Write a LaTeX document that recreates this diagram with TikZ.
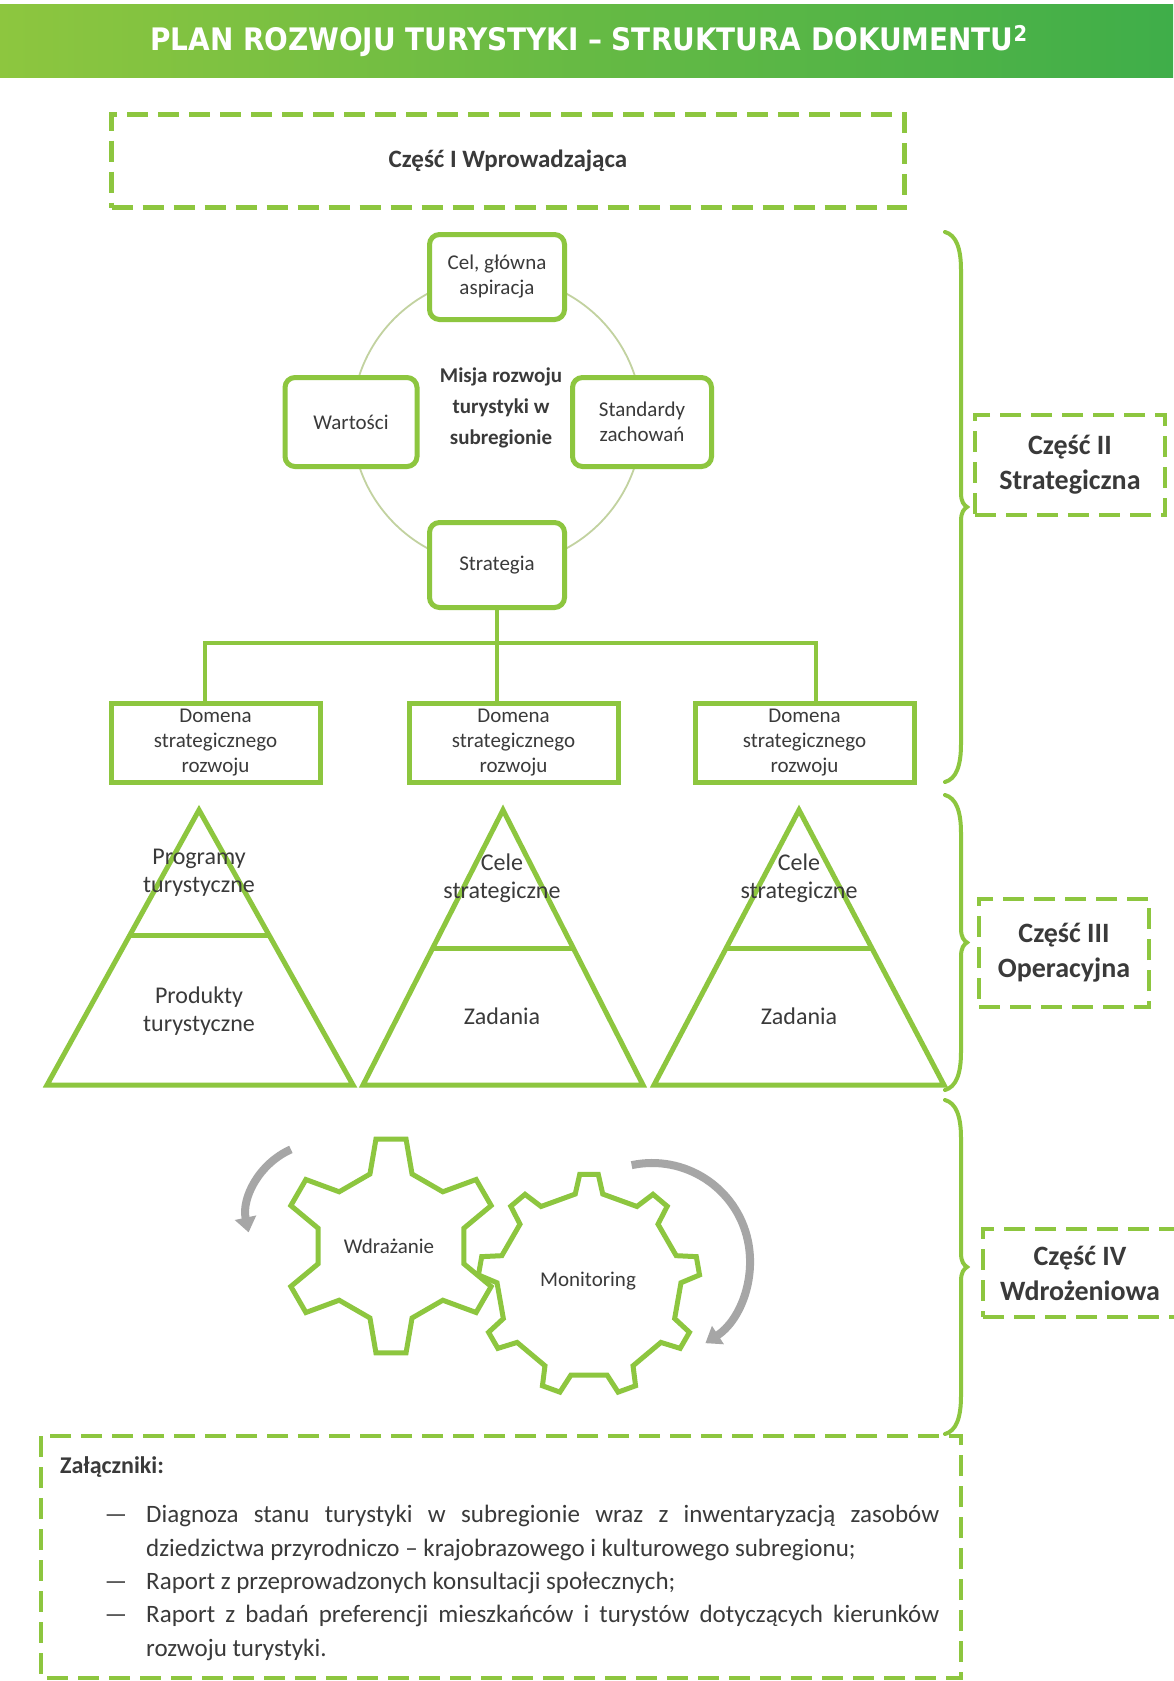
\documentclass[tikz,border=0pt]{standalone}
\usepackage{fontspec}
\setmainfont{Carlito}
\newfontfamily\titlefont{DejaVu Sans Condensed}
\usetikzlibrary{calc}
\usetikzlibrary{arrows.meta}
\definecolor{leaf}{HTML}{8DC63F}
\definecolor{moss}{HTML}{3FAE49}
\definecolor{ink}{HTML}{3A3A3A}
\definecolor{ringline}{HTML}{C2D2A0}
\definecolor{turngray}{HTML}{A6A6A6}
\newcommand*{\pagew}{1173}
\newcommand*{\pageh}{1681}
\newcommand*{\brx  }{961}
\newcommand*{\sidebrace}[2]{%
    \pgfmathsetmacro{\bmid}{(#1+#2)/2}
    \draw [bracestroke] (945,#1) .. controls (956,#1+3) and (\brx,#1+16) .. (\brx,#1+38)
        -- (\brx,\bmid-14) .. controls (\brx,\bmid-5) and (\brx+3,\bmid-2) .. (\brx+6,\bmid)
        .. controls (\brx+3,\bmid+2) and (\brx,\bmid+5) .. (\brx,\bmid+14)
        -- (\brx,#2-38) .. controls (\brx,#2-16) and (956,#2-3) .. (945,#2);}
\newcommand*{\gearpath}[5]{%
    (270-#5:#3) \foreach \k in {1,...,#1} {
        -- ({270+360/#1*(\k-1)-#5}:#3) -- ({270+360/#1*(\k-1)-#4}:#2)
        -- ({270+360/#1*(\k-1)+#4}:#2) -- ({270+360/#1*(\k-1)+#5}:#3)} -- cycle}
\tikzset{
    partbox/.style     = {draw=leaf, line width=4.5pt, dash pattern=on 21pt off 10pt, text=ink, align=center, inner sep=0pt},
    roundbox/.style    = {draw=leaf, line width=5pt, rounded corners=10pt, fill=white, text=ink, align=center, inner sep=0pt, font=\fontsize{21}{25}\selectfont},
    domainbox/.style   = {draw=leaf, line width=5pt, fill=white, text=ink, align=center, inner sep=0pt, minimum height=79pt, font=\fontsize{21}{25}\selectfont},
    link/.style        = {draw=leaf, line width=4.5pt},
    pyramid/.style     = {draw=leaf, line width=5pt},
    pyrtext/.style     = {text=ink, align=center, inner sep=0pt, font=\fontsize{24}{28}\selectfont},
    gearline/.style    = {draw=leaf, line width=5pt},
    geartext/.style    = {text=ink, inner sep=0pt, font=\fontsize{21}{25}\selectfont},
    turn/.style        = {draw=turngray, line width=8pt, -{Triangle[width=21pt,length=15pt]}},
    bracestroke/.style = {draw=leaf, line width=4pt, line cap=round},
    listtext/.style    = {text=ink, inner sep=0pt, font=\fontsize{25}{34}\selectfont}
}

\begin{document}
\begin{tikzpicture}[x=1pt, y=-1pt]
    \useasboundingbox (0,0) rectangle (\pagew,\pageh);
    \fill [white] (0,0) rectangle (\pagew,\pageh);
    \shade [left color=leaf, right color=moss] (0,4) rectangle (\pagew,77);
    \node [text=white, font=\titlefont\bfseries\fontsize{31}{36}\selectfont] (title) at (589,41)
        {PLAN ROZWOJU TURYSTYKI – STRUKTURA DOKUMENTU\textsuperscript{2}};

    \node [partbox, minimum width=793pt, minimum height=93pt, font=\bfseries\fontsize{25}{30}\selectfont] (part1) at (508,161) {\raisebox{-3pt}{Część I Wprowadzająca}};

    % mission ring
    \draw [draw=ringline, line width=1.8pt] (497,421) circle [radius=145];
    \node [roundbox, minimum width=135pt, minimum height=85pt] (goal)  at (497,277) {Cel, główna\\aspiracja};
    \node [roundbox, minimum width=132pt, minimum height=89pt] (value) at (351,422) {Wartości};
    \node [roundbox, minimum width=139pt, minimum height=89pt] (norms) at (642,422) {Standardy\\zachowań};
    \node [roundbox, minimum width=135pt, minimum height=85pt] (strat) at (497,565) {Strategia};
    \node [text=ink, align=center, inner sep=0pt, font=\bfseries\fontsize{21}{31}\selectfont] (mission) at (501,408) {Misja rozwoju\\turystyki w\\subregionie};

    \node [domainbox, minimum width=209pt] (dom1) at (215.5,742.5) {Domena\\strategicznego\\rozwoju};
    \node [domainbox, minimum width=209pt] (dom2) at (513.5,742.5) {Domena\\strategicznego\\rozwoju};
    \node [domainbox, minimum width=219pt] (dom3) at (804.5,742.5) {Domena\\strategicznego\\rozwoju};
    \coordinate (fork) at (497,643);
    \draw [link] (strat.south) -- (strat.south |- dom2.north);
    \draw [link] ([xshift=-10.5pt]dom1.north) |- (fork) -| ([xshift=11.5pt]dom3.north);

    \foreach \ax/\lx/\rx/\cut/\nm in {199/47/353/0.455/1, 503/363/643/0.502/2, 799/654/944/0.502/3} {
        \coordinate (t\nm a) at (\ax,810);
        \coordinate (t\nm l) at (\lx,1085);
        \coordinate (t\nm r) at (\rx,1085);
        \draw [pyramid] (t\nm a) -- (t\nm l) -- (t\nm r) -- cycle;
        \draw [pyramid] ($(t\nm a)!\cut!(t\nm l)$) -- ($(t\nm a)!\cut!(t\nm r)$);
    }
    \node [pyrtext] (prog) at (199,873)  {Programy\\turystyczne};
    \node [pyrtext] (prod) at (199,1011) {Produkty\\turystyczne};
    \node [pyrtext] (aim2) at (502,878)  {Cele\\strategiczne};
    \node [pyrtext] (task2) at (502,1016) {Zadania};
    \node [pyrtext] (aim3) at (799,878)  {Cele\\strategiczne};
    \node [pyrtext] (task3) at (799,1016) {Zadania};

    % gears and turning arrows
    \draw [gearline, shift={(391,1246)}] \gearpath{6}{108}{75}{8}{16.3};
    \draw [gearline, shift={(589,1285)}] \gearpath{9}{111}{92}{4.8}{8.6};
    \node [geartext] (impl)    at (389,1246) {Wdrażanie};
    \node [geartext] (monitor) at (588,1281) {Monitoring};
    \draw [turn] (321,1217) ++(-114:74) arc [start angle=-114, end angle=-192, radius=74];
    \draw [turn] (652,1261) ++(-102:98) arc [start angle=-102, end angle=57, radius=98];

    \sidebrace{232}{782}
    \sidebrace{795}{1090}
    \sidebrace{1100}{1434}
    \node [partbox, minimum width=190pt, minimum height=100pt, font=\bfseries\fontsize{28}{35}\selectfont] (part2) at (1070,465)  {Część II\\Strategiczna};
    \node [partbox, minimum width=170pt, minimum height=108pt, font=\bfseries\fontsize{28}{35}\selectfont] (part3) at (1064,953)  {Część III\\Operacyjna};
    \node [partbox, minimum width=194pt, minimum height=88pt,  font=\bfseries\fontsize{28}{35}\selectfont] (part4) at (1080,1273) {Część IV\\Wdrożeniowa};

    % annexes
    \draw [partbox] (41,1436) rectangle (961,1678);
    \node [text=ink, inner sep=0pt, anchor=base west, font=\bfseries\fontsize{24}{30}\selectfont] (annex) at (60,1473) {Załączniki:};
    \node [listtext, anchor=base] (dash1) at (116,1522) {—};
    \node [listtext, anchor=base] (dash2) at (116,1589) {—};
    \node [listtext, anchor=base] (dash3) at (116,1622) {—};
    \node [listtext, anchor=base west, text width=793pt, align=justify] (item1) at (146,1522)
        {Diagnoza stanu turystyki w subregionie wraz z inwentaryzacją zasobów\linebreak dziedzictwa przyrodniczo – krajobrazowego i kulturowego subregionu;};
    \node [listtext, anchor=base west, text width=793pt, align=justify] (item2) at (146,1589)
        {Raport z przeprowadzonych konsultacji społecznych;};
    \node [listtext, anchor=base west, text width=793pt, align=justify] (item3) at (146,1622)
        {Raport z badań preferencji mieszkańców i turystów dotyczących kierunków\linebreak rozwoju turystyki.};
\end{tikzpicture}
\end{document}
